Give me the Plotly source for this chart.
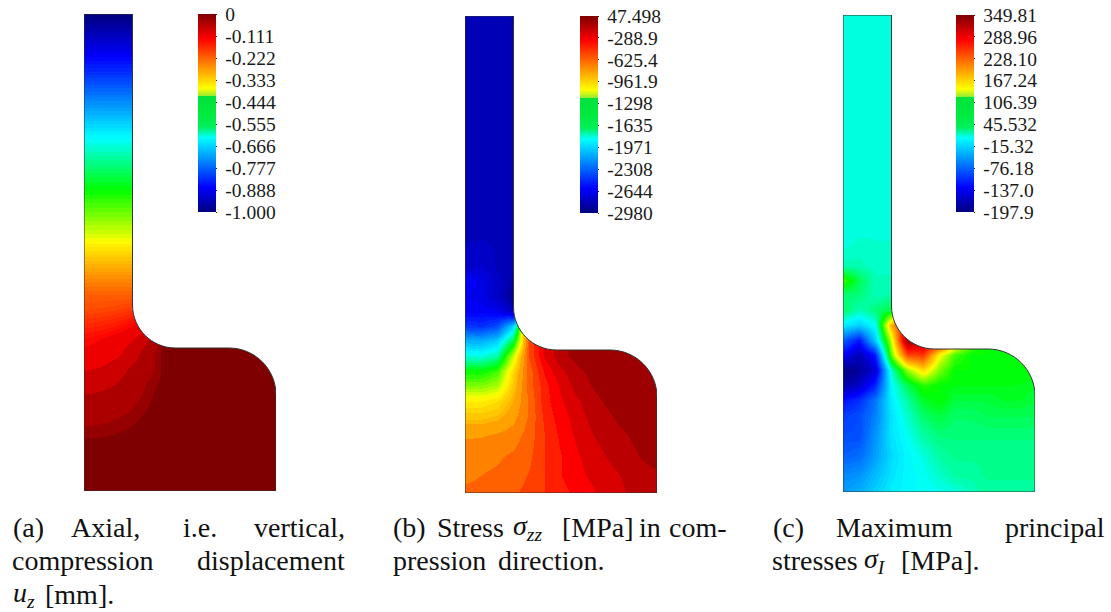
import plotly.graph_objects as go

# ---- sampling positions across the part section (x across, y down from the top face)
x_grid = [0, 16, 32, 48, 64, 80, 96, 112, 128, 144, 160, 176, 192]
y_grid = [0, 60, 120, 180, 220, 250, 265, 280, 295, 310, 325, 340, 355, 370, 385, 400, 420, 440, 460, 477]

# ---- field levels, as a fraction of each colour bar
level_a = [
 [.00]*13,
 [.175]*13,
 [.365]*13,
 [.51]*13,
 [.605]*13,
 [.70]*13,
 [.74]*13,
 [.78]*13,
 [.80,.805,.81,.82,.84,.86,.90,1,1,1,1,1,1],
 [.835,.84,.85,.87,.89,.90,.95,1,1,1,1,1,1],
 [.865,.875,.89,.905,.935,.99,1,1,1,1,1,1,1],
 [.885,.887,.90,.925,.96,.99,1,1,1,1,1,1,1],
 [.905,.91,.925,.945,.96,.99,1,1,1,1,1,1,1],
 [.925,.93,.94,.955,.975,.99,1,1,1,1,1,1,1],
 [.945,.95,.955,.965,.98,1,1,1,1,1,1,1,1],
 [.96,.962,.968,.975,.988,1,1,1,1,1,1,1,1],
 [.98,.981,.984,.99,1,1,1,1,1,1,1,1,1],
 [1]*13,
 [1]*13,
 [1]*13,
]
level_b = [
 [.06]*13,
 [.06]*13,
 [.06]*13,
 [.06]*13,
 [.06]*13,
 [.07,.08,.06,.05,.05,.05,.05,.05,.05,.05,.05,.05,.05],
 [.13,.10,.07,.04,.04,.04,.04,.04,.04,.04,.04,.04,.04],
 [.11,.10,.07,.02,.02,.02,.02,.02,.02,.02,.02,.02,.02],
 [.12,.12,.11,.06,.06,.06,.06,.06,.06,.06,.06,.06,.06],
 [.18,.17,.20,.33,.85,.9,.95,.97,.97,.97,.97,.97,.97],
 [.30,.30,.33,.47,.80,.9,.95,.97,.97,.97,.97,.97,.97],
 [.395,.39,.42,.60,.80,.90,.95,.97,.97,.97,.97,.97,.97],
 [.50,.50,.53,.66,.78,.87,.92,.95,.97,.975,.975,.975,.975],
 [.565,.565,.585,.68,.78,.85,.90,.94,.96,.97,.975,.975,.975],
 [.64,.64,.655,.70,.77,.85,.89,.92,.95,.965,.97,.975,.975],
 [.68,.68,.69,.72,.77,.84,.88,.91,.94,.955,.97,.975,.975],
 [.73,.73,.74,.75,.78,.83,.87,.90,.925,.945,.955,.97,.975],
 [.75,.755,.76,.77,.79,.83,.86,.89,.91,.93,.945,.96,.975],
 [.76,.765,.77,.78,.80,.83,.86,.885,.90,.915,.93,.945,.95],
 [.77,.77,.775,.79,.81,.83,.85,.87,.89,.91,.925,.94,.945],
]
level_c = [
 [.395]*13,
 [.39,.395,.395,.395,.395,.395,.395,.395,.395,.395,.395,.395,.395],
 [.395]*13,
 [.39,.395,.395,.395,.395,.395,.395,.395,.395,.395,.395,.395,.395],
 [.385,.395,.395,.395,.395,.395,.395,.395,.395,.395,.395,.395,.395],
 [.41,.41,.40,.40,.40,.40,.40,.40,.40,.40,.40,.40,.40],
 [.53,.46,.41,.41,.41,.41,.41,.41,.41,.41,.41,.41,.41],
 [.44,.44,.41,.42,.43,.43,.43,.43,.43,.43,.43,.43,.43],
 [.45,.41,.44,.47,.5,.5,.5,.5,.5,.5,.5,.5,.5],
 [.36,.33,.38,.70,.9,.95,.95,.8,.6,.5,.5,.5,.5],
 [.22,.15,.33,.60,.98,.95,.9,.7,.55,.5,.5,.5,.5],
 [.12,.05,.15,.55,.80,.82,.63,.53,.50,.50,.50,.50,.50],
 [.00,.03,.08,.40,.57,.66,.56,.50,.50,.50,.50,.50,.50],
 [.04,.07,.16,.37,.46,.52,.50,.49,.49,.49,.49,.49,.48],
 [.14,.17,.24,.36,.42,.48,.50,.47,.47,.47,.48,.48,.47],
 [.18,.20,.25,.35,.40,.45,.47,.45,.45,.46,.46,.46,.46],
 [.20,.20,.27,.35,.38,.42,.44,.44,.44,.44,.44,.44,.44],
 [.22,.23,.28,.34,.37,.39,.42,.43,.43,.43,.43,.43,.43],
 [.26,.27,.31,.35,.37,.38,.40,.42,.42,.43,.43,.43,.43],
 [.28,.30,.33,.36,.37,.38,.38,.39,.41,.42,.42,.42,.42],
]

# ---- colour bar ends and tick labels
range_a = (-1.0, 0.0)
range_b = (-2980.0, 47.498)
range_c = (-197.9, 349.81)
ticks_a = ["0", "-0.111", "-0.222", "-0.333", "-0.444", "-0.555", "-0.666", "-0.777", "-0.888", "-1.000"]
ticks_b = ["47.498", "-288.9", "-625.4", "-961.9", "-1298", "-1635", "-1971", "-2308", "-2644", "-2980"]
ticks_c = ["349.81", "288.96", "228.10", "167.24", "106.39", "45.532", "-15.32", "-76.18", "-137.0", "-197.9"]

# ---- page layout in pixels
W, H = 1111, 612
PART_W, PART_H = 192, 477
panels = [
    dict(level=level_a, rng=range_a, ticks=ticks_a, fine=96, coarse_from=.875, left=84, top=14, bar_left=198, bar_top=14, bar_bot=212),
    dict(level=level_b, rng=range_b, ticks=ticks_b, fine=64, coarse_from=.70, left=465, top=16, bar_left=580, bar_top=16, bar_bot=213),
    dict(level=level_c, rng=range_c, ticks=ticks_c, fine=96, coarse_from=1.0, left=843, top=15, bar_left=956, bar_top=15, bar_bot=212),
]

# captions: (text, x, line)
captions = [
    ("(a)", 13, 0), ("Axial,", 71, 0), ("i.e.", 183, 0), ("vertical,", 254, 0),
    ("compression", 12, 1), ("displacement", 197, 1),
    ("<i>u<sub>z</sub></i>", 13, 2), ("[mm].", 45, 2),
    ("(b)", 393, 0), ("Stress", 437, 0), ("<i>σ<sub>zz</sub></i>", 513, 0), ("[MPa]", 562, 0), ("in", 639, 0), ("com-", 669, 0),
    ("pression", 393, 1), ("direction.", 498, 1),
    ("(c)", 773, 0), ("Maximum", 836, 0), ("principal", 1005, 0),
    ("stresses", 772, 1), ("<i>σ<sub>I</sub></i>", 864, 1), ("[MPa].", 901, 1),
]
caption_y = [527, 560, 594]

rainbow = [(0, (0, 0, 127)), (.125, (0, 0, 255)), (.375, (0, 255, 255)), (.5, (0, 255, 0)),
           (.625, (255, 255, 0)), (.875, (255, 0, 0)), (1, (127, 0, 0))]


def rgb(c):
    return f"rgb({int(c[0])},{int(c[1])},{int(c[2])})"


def jet(t):
    for (p0, c0), (p1, c1) in zip(rainbow, rainbow[1:]):
        if t <= p1:
            f = (t - p0) / (p1 - p0)
            return rgb([a + (b - a) * f for a, b in zip(c0, c1)])
    return rgb(rainbow[-1][1])


def stepped(fine, coarse_from, coarse=1 / 31):
    """Contour bands: fine below coarse_from, coarser above it, last band pure."""
    edges = [0.0]
    while edges[-1] + 1 / fine < coarse_from - 1e-9:
        edges.append(edges[-1] + 1 / fine)
    edges.append(min(coarse_from, 1.0))
    top = 1.0 - coarse / 2
    while edges[-1] + coarse < top:
        edges.append(edges[-1] + coarse)
    if edges[-1] < 1.0:
        edges.append(top if edges[-1] < top else 1.0)
    if edges[-1] < 1.0:
        edges.append(1.0)
    scale = []
    for a, b in zip(edges, edges[1:]):
        c = jet(1.0 if b >= 1.0 and coarse_from < 1.0 else (a + b) / 2)
        scale += [[a, c], [b, c]]
    return scale


bar_scale = [[0, jet(0)], [.125, jet(.125)], [.375, jet(.375)], [.43, "rgb(0,240,90)"],
             [.50, "rgb(0,235,60)"], [.584, "rgb(0,225,60)"], [.585, "rgb(150,235,50)"],
             [.625, jet(.625)], [.875, jet(.875)], [1, jet(1)]]


def fillet_path():
    r1, r2 = 43, 47
    sw, shoulder, fw = 48.5, 334, PART_W
    k = 0.5523
    return (f"M{sw},-2 L{fw+2},-2 L{fw+2},{shoulder+r2} L{fw},{shoulder+r2} "
            f"C{fw},{shoulder+r2-k*r2} {fw-r2+k*r2},{shoulder} {fw-r2},{shoulder} "
            f"L{sw+r1},{shoulder} "
            f"C{sw+r1-k*r1},{shoulder} {sw},{shoulder-r1+k*r1} {sw},{shoulder-r1} Z")


def outline_path():
    r1, r2 = 43, 47
    sw, shoulder, fw = 48.5, 334, PART_W
    k = 0.5523
    return (f"M0,0 L{sw},0 L{sw},{shoulder-r1} "
            f"C{sw},{shoulder-r1+k*r1} {sw+r1-k*r1},{shoulder} {sw+r1},{shoulder} "
            f"L{fw-r2},{shoulder} "
            f"C{fw-r2+k*r2},{shoulder} {fw},{shoulder+r2-k*r2} {fw},{shoulder+r2} "
            f"L{fw},{PART_H} L0,{PART_H} Z")


fig = go.Figure()
layout = dict(width=W, height=H, autosize=False, margin=dict(l=0, r=0, t=0, b=0),
              paper_bgcolor="white", plot_bgcolor="white", showlegend=False)
shapes, annotations = [], []

for i, p in enumerate(panels, start=1):
    lo, hi = p["rng"]
    z = [[lo + (hi - lo) * v for v in row] for row in p["level"]]
    xn, yn = f"x{i}", f"y{i}"
    fig.add_trace(go.Heatmap(x=x_grid, y=y_grid, z=z, zmin=lo, zmax=hi,
                             colorscale=stepped(p["fine"], p["coarse_from"]),
                             zsmooth="best", showscale=False, xaxis=xn, yaxis=yn, hoverinfo="skip"))
    n = len(p["ticks"])
    tickvals = [hi - (hi - lo) * j / (n - 1) for j in range(n)]
    bar_h = p["bar_bot"] - p["bar_top"]
    fig.add_trace(go.Scatter(
        x=[0, 0], y=[0, 0], mode="markers", xaxis=xn, yaxis=yn, hoverinfo="skip",
        marker=dict(size=1, opacity=0, color=[lo, hi], cmin=lo, cmax=hi, colorscale=bar_scale, showscale=True,
                    colorbar=dict(thicknessmode="pixels", thickness=18, lenmode="pixels", len=bar_h,
                                  x=p["bar_left"] / W, xanchor="left", xpad=0, ypad=0,
                                  y=1 - p["bar_top"] / H, yanchor="top", outlinewidth=0, borderwidth=0,
                                  tickmode="array", tickvals=tickvals,
                                  ticktext=["\u00a0" + t for t in p["ticks"]],
                                  ticks="outside", ticklen=1, tickwidth=1, tickcolor="#222",
                                  tickfont=dict(family="Liberation Serif", size=19.5, color="#1a1a1a")))))
    suffix = "" if i == 1 else str(i)
    layout["xaxis" + suffix] = dict(domain=[p["left"] / W, (p["left"] + PART_W) / W], range=[0, PART_W],
                                    visible=False, fixedrange=True)
    layout["yaxis" + suffix] = dict(domain=[1 - (p["top"] + PART_H) / H, 1 - p["top"] / H], range=[PART_H, 0],
                                    visible=False, fixedrange=True)
    shapes.append(dict(type="path", path=fillet_path(), xref=xn, yref=yn, fillcolor="white", line_width=0, layer="above"))
    shapes.append(dict(type="path", path=outline_path(), xref=xn, yref=yn, fillcolor="rgba(0,0,0,0)",
                       line=dict(color="#333", width=1), layer="above"))

for text, x, row in captions:
    annotations.append(dict(text=text, x=x / W, y=1 - caption_y[row] / H, xref="paper", yref="paper",
                            xanchor="left", yanchor="middle", showarrow=False, xshift=-2,
                            font=dict(family="Liberation Serif", size=28, color="#111")))

fig.update_layout(shapes=shapes, annotations=annotations, **layout)
fig.write_html("out.html", config=dict(displayModeBar=False), post_script="document.body.style.margin='0';")
